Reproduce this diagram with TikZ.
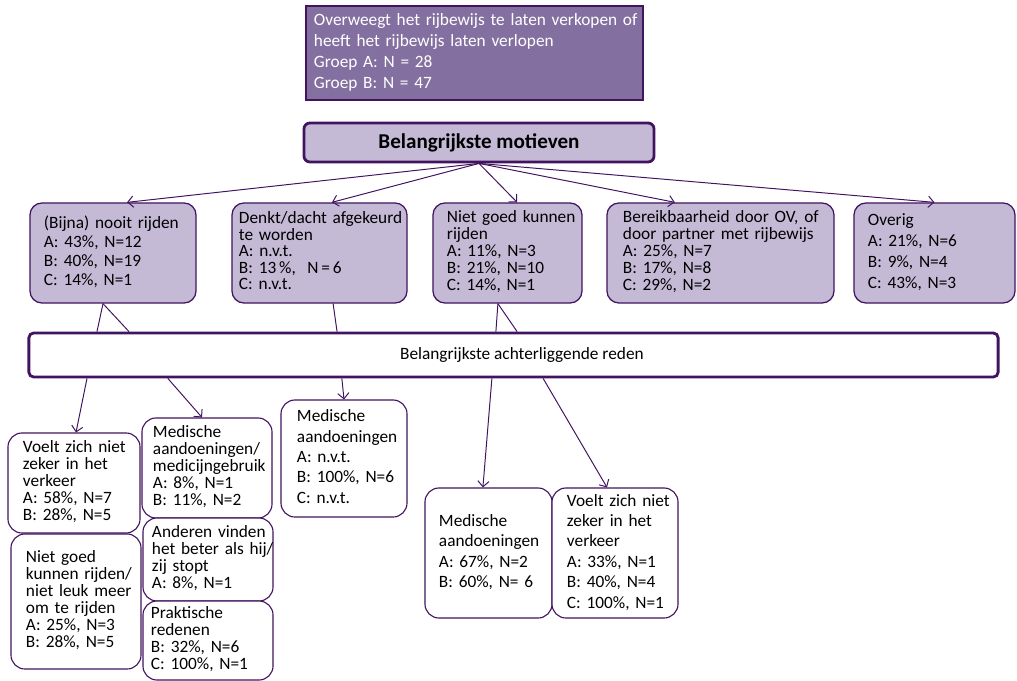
\documentclass[tikz,border=0pt]{standalone}
\usepackage{fontspec}
\setmainfont{Carlito}
\usetikzlibrary{arrows.meta}
\definecolor{paars}{HTML}{42145F}
\definecolor{lila}{HTML}{C4BAD6}
\definecolor{donkerlila}{HTML}{8470A0}
\newcommand\regels[1]{\begin{tabular}{@{}l@{}}#1\end{tabular}}

\begin{document}
\begin{tikzpicture}[x=0.025cm,y=-0.025cm,
    >={Straight Barb[length=1.4mm,width=2.8mm]},
    font=\fontsize{12.3}{12}\selectfont,
    motief/.style={draw=paars,line width=0.9pt,fill=lila,rounded corners=0.3cm,
      align=left,inner ysep=0pt,minimum height=2.5cm},
    reden/.style={draw=paars,line width=0.8pt,fill=white,rounded corners=0.35cm,
      align=left,inner ysep=0pt},
    ruim/.style={font=\fontsize{12.3}{14.5}\selectfont},
    pijl/.style={draw=paars,line width=0.7pt,->},
    lijn/.style={draw=paars,line width=0.7pt}]
  \useasboundingbox (0,0) rectangle (1017,681);

  % vraag en kop
  \node[fill=donkerlila,draw=paars,line width=1.5pt,text=white,align=left,
    inner xsep=0.2cm,text width=8.025cm,minimum height=2.35cm,
    font=\fontsize{12.3}{15}\selectfont] (vraag) at (474.5,53)
    {\regels{Overweegt het rijbewijs te laten verkopen of\\heeft het rijbewijs laten verlopen\\
     Groep A: N = 28\\Groep B: N = 47}};
  \node[fill=lila,draw=paars,line width=2pt,rounded corners=0.15cm,
    minimum width=8.75cm,minimum height=0.975cm,inner sep=0pt,
    font=\fontsize{15}{17}\selectfont\bfseries] (motieven) at (479,142.5)
    {Belangrijkste motieven};

  % motieven
  \node[motief,inner xsep=0.35cm,text width=3.45cm,font=\fontsize{12.3}{13.5}\selectfont] (nooit) at (113,253)
    {\regels{(Bijna) nooit rijden\\A: 43\%, N=12\\B: 40\%, N=19\\C: 14\%, N=1}};
  \node[motief,inner xsep=0.175cm,text width=4.025cm,font=\fontsize{12.3}{11.7}\selectfont] (afgekeurd) at (319.5,253)
    {\regels{Denkt/dacht afgekeurd\\te worden\\A: n.v.t.\\B: 13\,\%, \ N\,=\,6\\C: n.v.t.}};
  \node[motief,inner xsep=0.35cm,text width=3.025cm] (kunnen) at (507.5,253)
    {\regels{Niet goed kunnen\\rijden\\A: 11\%, N=3\\B: 21\%, N=10\\C: 14\%, N=1}};
  \node[motief,inner xsep=0.4cm,text width=4.875cm] (ov) at (720.5,253)
    {\regels{Bereikbaarheid door OV, of\\door partner met rijbewijs\\A: 25\%, N=7\\B: 17\%, N=8\\C: 29\%, N=2}};
  \node[motief,inner xsep=0.35cm,text width=3.325cm,font=\fontsize{12.3}{15}\selectfont] (overig) at (934.5,253)
    {\regels{Overig\\A: 21\%, N=6\\B: 9\%, N=4\\C: 43\%, N=3}};

  \node[draw=paars,line width=2pt,fill=white,rounded corners=0.12cm,inner sep=0pt,
    minimum width=24.225cm,minimum height=1.1cm] (achter) at (513.5,355)
    {\hspace*{0.42cm}Belangrijkste achterliggende reden};

  % redenen
  \node[reden,inner xsep=0.375cm,text width=2.55cm,minimum height=2.5cm] (zeker) at (74,483)
    {\regels{Voelt zich niet\\zeker in het\\verkeer\\A: 58\%, N=7\\B: 28\%, N=5}};
  \node[reden,inner xsep=0.375cm,text width=2.5cm,minimum height=3.375cm] (leuk) at (76,601.5)
    {\regels{Niet goed\\kunnen rijden/\\niet leuk meer\\om te rijden\\A: 25\%, N=3\\B: 28\%, N=5}};
  \node[reden,inner xsep=0.275cm,text width=2.7cm,minimum height=2.5cm] (medicijn) at (207,468)
    {\regels{Medische\\aandoeningen/\\medicijngebruik\\A: 8\%, N=1\\B: 11\%, N=2}};
  \node[reden,inner xsep=0.225cm,text width=2.8cm,minimum height=2.075cm] (anderen) at (208,559.5)
    {\regels{Anderen vinden\\het beter als hij/\\zij stopt\\A: 8\%, N=1}};
  \node[reden,inner xsep=0.2cm,text width=2.85cm,minimum height=1.975cm] (praktisch) at (208,640.5)
    {\regels{Praktische\\redenen\\B: 32\%, N=6\\C: 100\%, N=1}};
  \node[reden,ruim,inner xsep=0.4cm,text width=2.35cm,minimum height=2.925cm] (medisch) at (344,458.5)
    {\regels{Medische\\aandoeningen\\A: n.v.t.\\B: 100\%, N=6\\C: n.v.t.}};
  \node[reden,ruim,inner xsep=0.35cm,text width=2.475cm,minimum height=3.25cm] (medisch2) at (488.5,553)
    {\regels{Medische\\aandoeningen\\A: 67\%, N=2\\B: 60\%, N= 6}};
  \node[reden,ruim,inner xsep=0.375cm,text width=2.4cm,minimum height=3.25cm] (zeker2) at (615,553)
    {\regels{Voelt zich niet\\zeker in het\\verkeer\\A: 33\%, N=1\\B: 40\%, N=4\\C: 100\%, N=1}};

  % pijlen
  \draw[pijl] (motieven.south) -- ([xshift=0.35cm]nooit.north);
  \draw[pijl] (motieven.south) -- ([xshift=0.31cm]afgekeurd.north);
  \draw[pijl] (motieven.south) -- ([xshift=0.24cm]kunnen.north);
  \draw[pijl] (motieven.south) -- ([xshift=-1.14cm]ov.north);
  \draw[pijl] (motieven.south) -- (overig.north);

  \draw[lijn] ([xshift=-0.25cm]nooit.south) -- ([xshift=-10.41cm]achter.north);
  \draw[lijn] ([xshift=-0.25cm]nooit.south) -- ([xshift=-9.61cm]achter.north);
  \draw[lijn] ([xshift=0.34cm]afgekeurd.south) -- ([xshift=-4.41cm]achter.north);
  \draw[lijn] ([xshift=-0.24cm]kunnen.south) -- ([xshift=-0.44cm]achter.north);
  \draw[lijn] ([xshift=-0.24cm]kunnen.south) -- ([xshift=0.09cm]achter.north);

  \draw[pijl] ([xshift=-10.66cm]achter.south) -- ([xshift=0.05cm]zeker.north);
  \draw[pijl] ([xshift=-8.64cm]achter.south) -- ([xshift=-0.125cm]medicijn.north);
  \draw[pijl] ([xshift=-4.29cm]achter.south) -- (medisch.north);
  \draw[pijl] ([xshift=-0.54cm]achter.south) -- ([xshift=-0.14cm]medisch2.north);
  \draw[pijl] ([xshift=0.74cm]achter.south) -- ([xshift=-0.2cm]zeker2.north);
\end{tikzpicture}
\end{document}
